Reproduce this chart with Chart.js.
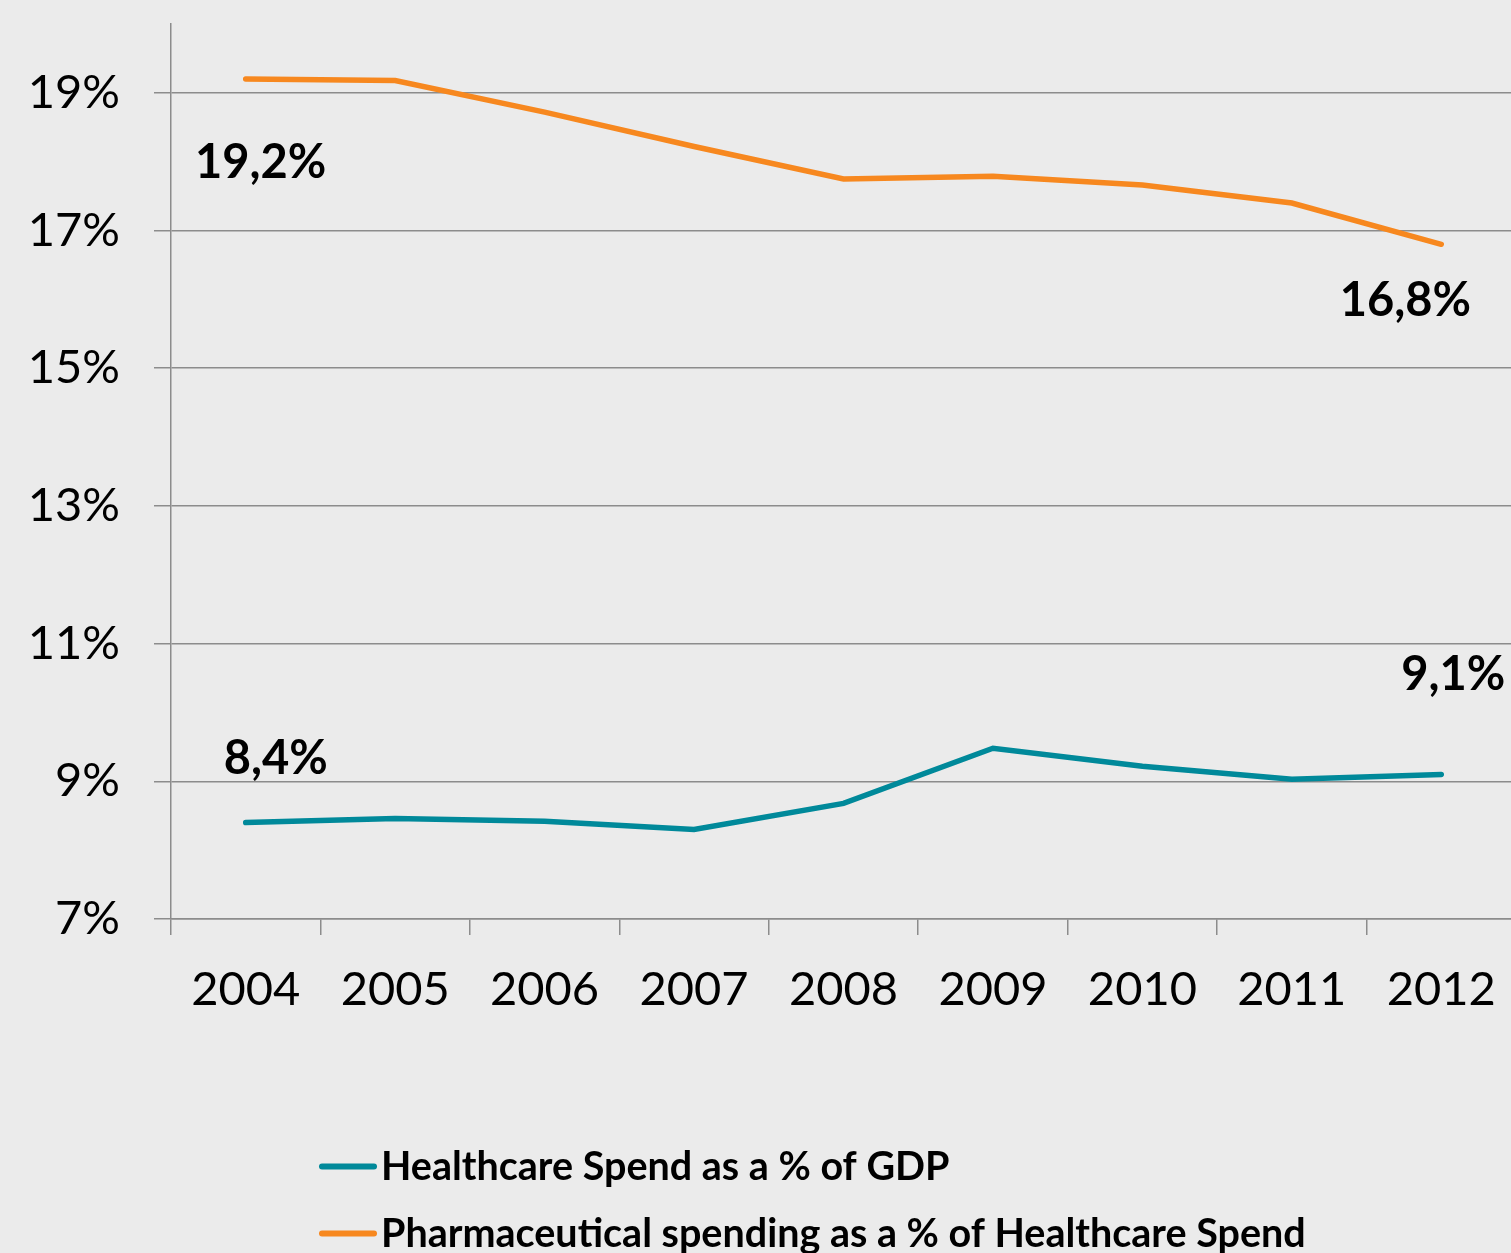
<!DOCTYPE html>
<html>
<head>
<meta charset="utf-8">
<title>Healthcare and pharmaceutical spending 2004–2012</title>
<script src="https://cdn.jsdelivr.net/npm/chart.js@4/dist/chart.umd.min.js"></script>
<style>
  html, body { margin: 0; padding: 0; background: #ebebeb; overflow: hidden; }
  #wrap { width: 1530px; height: 1253px; }
</style>
</head>
<body>
<div id="wrap"><canvas id="chart" width="1530" height="1253"></canvas></div>
<script>
// Years on the horizontal axis
const years = ['2004', '2005', '2006', '2007', '2008', '2009', '2010', '2011', '2012'];

// Healthcare spend as a share of GDP (%)
const healthcareGdp = [8.4, 8.46, 8.42, 8.30, 8.68, 9.48, 9.22, 9.03, 9.1];

// Pharmaceutical spending as a share of healthcare spend (%)
const pharmaShare = [19.2, 19.18, 18.72, 18.22, 17.75, 17.79, 17.66, 17.40, 16.8];

// Series names
const seriesNames = [
  'Healthcare Spend as a % of GDP',
  'Pharmaceutical spending as a % of Healthcare Spend'
];

// Y axis ticks
const yTicks = [7, 9, 11, 13, 15, 17, 19];

const TEAL = '#00899a';
const ORANGE = '#f7881f';
const GRID = '#8c8c8c';
const FONT = 'Lato, "Open Sans", sans-serif';

// Value callouts: which point to annotate, and where the text sits relative to it
const callouts = [
  { dataset: 0, index: 0, dx: 30, dy: -49 },
  { dataset: 0, index: 8, dx: 12, dy: -84 },
  { dataset: 1, index: 0, dx: 15, dy: 99 },
  { dataset: 1, index: 8, dx: -36, dy: 72 }
];

const fmt = v => v.toFixed(1).replace('.', ',') + '%';

const background = {
  id: 'background',
  beforeDraw(chart) {
    const c = chart.ctx;
    c.save();
    c.fillStyle = '#ebebeb';
    c.fillRect(0, 0, chart.width, chart.height);
    c.restore();
  }
};

const valueLabels = {
  id: 'valueLabels',
  afterDatasetsDraw(chart) {
    const c = chart.ctx;
    c.save();
    c.font = 'bold 47px ' + FONT;
    c.fillStyle = '#000';
    c.textAlign = 'center';
    c.textBaseline = 'alphabetic';
    callouts.forEach(o => {
      const pt = chart.getDatasetMeta(o.dataset).data[o.index];
      const v = chart.data.datasets[o.dataset].data[o.index];
      c.fillText(fmt(v), pt.x + o.dx, pt.y + o.dy);
    });
    c.restore();
  }
};

const stackedLegend = {
  id: 'stackedLegend',
  afterDraw(chart) {
    const c = chart.ctx;
    const left = 322, lineLen = 52, gap = 7;
    const rows = [1166.5, 1233.5];
    c.save();
    c.font = 'bold 39.5px ' + FONT;
    c.textAlign = 'left';
    c.textBaseline = 'alphabetic';
    chart.data.datasets.forEach((ds, i) => {
      const y = rows[i];
      c.strokeStyle = ds.borderColor;
      c.lineWidth = 6;
      c.lineCap = 'round';
      c.beginPath();
      c.moveTo(left, y);
      c.lineTo(left + lineLen, y);
      c.stroke();
      c.fillStyle = '#000';
      c.fillText(ds.label, left + lineLen + gap, y + 13);
    });
    c.restore();
  }
};

new Chart(document.getElementById('chart'), {
  type: 'line',
  data: {
    labels: years,
    datasets: [
      {
        label: seriesNames[0],
        data: healthcareGdp,
        borderColor: TEAL,
        backgroundColor: TEAL,
        borderWidth: 5.5,
        borderCapStyle: 'round',
        pointRadius: 0,
        tension: 0,
        fill: false
      },
      {
        label: seriesNames[1],
        data: pharmaShare,
        borderColor: ORANGE,
        backgroundColor: ORANGE,
        borderWidth: 5.5,
        borderCapStyle: 'round',
        pointRadius: 0,
        tension: 0,
        fill: false
      }
    ]
  },
  options: {
    responsive: false,
    animation: false,
    layout: { padding: { top: 24, right: 14, left: 0, bottom: 214 } },
    plugins: {
      legend: { display: false },
      tooltip: { enabled: false }
    },
    scales: {
      x: {
        type: 'category',
        offset: true,
        grid: {
          offset: true,
          drawOnChartArea: false,
          drawTicks: true,
          tickLength: 16,
          color: GRID,
          lineWidth: 1.5
        },
        border: { display: true, color: GRID, width: 1.5 },
        ticks: {
          color: '#000',
          font: { family: FONT, size: 47 },
          padding: 27,
          maxRotation: 0,
          autoSkip: false
        },
        afterFit(scale) {
          scale.height = 120;
          scale.paddingLeft = 0;
          scale.paddingRight = 0;
        }
      },
      y: {
        min: 7,
        max: 20,
        grid: {
          color: GRID,
          lineWidth: 1.5,
          drawTicks: true,
          tickLength: 17
        },
        border: { display: true, color: GRID, width: 1.5 },
        ticks: {
          color: '#000',
          font: { family: FONT, size: 47 },
          padding: 34,
          callback: v => v + '%'
        },
        afterBuildTicks(scale) {
          scale.ticks = yTicks.map(v => ({ value: v }));
        },
        afterFit(scale) {
          scale.width = 171;
          scale.paddingTop = 0;
          scale.paddingBottom = 0;
        }
      }
    }
  },
  plugins: [background, valueLabels, stackedLegend]
});
</script>
</body>
</html>
